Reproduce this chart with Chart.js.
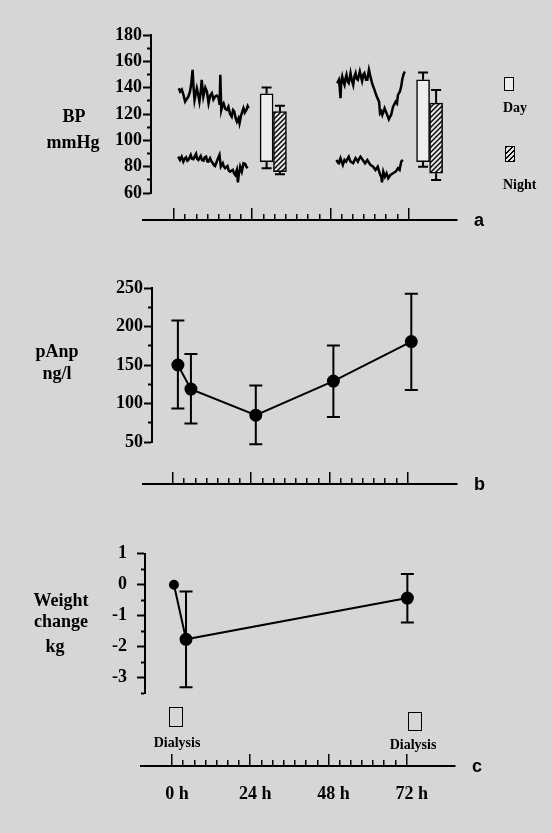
<!DOCTYPE html>
<html lang="en">
<head>
<meta charset="UTF-8">
<title>BP, pAnp and weight over the dialysis interval</title>
<style>
  body { margin: 0; padding: 0; background: #d6d6d6; color: #000; font-family: 'Liberation Serif', 'Times New Roman', serif; }
  #page { position: relative; width: 552px; height: 833px; overflow: hidden; }
  canvas { position: absolute; left: 0; }
  .lbl { position: absolute; font-weight: bold; font-size: 18px; line-height: 20px; white-space: nowrap; }
  .ctr { transform: translateX(-50%); text-align: center; }
  .small { font-size: 14px; line-height: 16px; }
  .pid { position: absolute; font-family: 'Liberation Sans', Arial, sans-serif; font-weight: bold; font-size: 18px; line-height: 20px; }
  .box { position: absolute; border: 1.5px solid #000; box-sizing: border-box; }
  .hatch { background: repeating-linear-gradient(135deg, #000 0 1.4px, #e4e4e4 1.4px 3.6px); }
</style>
<script src="https://cdn.jsdelivr.net/npm/chart.js"></script>
</head>
<body>
<div id="page">
  <canvas id="bpChart" width="552" height="182" style="top:23px"></canvas>
  <canvas id="bpAxis" width="552" height="24" style="top:200px"></canvas>
  <canvas id="anpChart" width="552" height="180" style="top:276px"></canvas>
  <canvas id="anpAxis" width="552" height="24" style="top:464px"></canvas>
  <canvas id="wtChart" width="552" height="181" style="top:533px"></canvas>
  <canvas id="wtAxis" width="552" height="60" style="top:746px"></canvas>

  <div class="lbl ctr" style="left:74px; top:106px">BP</div>
  <div class="lbl ctr" style="left:73px; top:132px">mmHg</div>
  <div class="lbl ctr" style="left:57px; top:341px">pAnp</div>
  <div class="lbl ctr" style="left:57px; top:363px">ng/l</div>
  <div class="lbl ctr" style="left:61px; top:590px">Weight</div>
  <div class="lbl ctr" style="left:61px; top:611px">change</div>
  <div class="lbl ctr" style="left:55px; top:636px">kg</div>

  <div class="box" style="left:504px; top:77px; width:10px; height:14px; background:#ededed"></div>
  <div class="lbl small" style="left:503px; top:100px">Day</div>
  <div class="box hatch" style="left:505px; top:146px; width:10px; height:16px"></div>
  <div class="lbl small" style="left:503px; top:177px">Night</div>

  <div class="box" style="left:169px; top:707px; width:14px; height:20px"></div>
  <div class="lbl small ctr" style="left:177px; top:735px">Dialysis</div>
  <div class="box" style="left:408px; top:712px; width:14px; height:19px"></div>
  <div class="lbl small ctr" style="left:413px; top:737px">Dialysis</div>

  <div class="pid" style="left:474px; top:210px">a</div>
  <div class="pid" style="left:474px; top:474px">b</div>
  <div class="pid" style="left:472px; top:756px">c</div>
</div>
<script>
    // ---- data (hours after start of dialysis) ----
    // seven tick intervals per day, as drawn on the original axis
    const timeTicks = [0, 3.4, 6.9, 10.3, 13.7, 17.1, 20.6, 24, 27.4, 30.9, 34.3, 37.7, 41.1, 44.6, 48, 51.4, 54.9, 58.3, 61.7, 65.1, 68.6, 72];
    const timeLabels = [0, 24, 48, 72];

    // first day, systolic and diastolic traces
    const sys1Hours = [1.5, 1.9, 2.4, 2.9, 3.4, 3.8, 4.4, 4.9, 5.3, 5.7, 6.0, 6.3, 6.7, 7.0, 7.4, 7.8, 8.2, 8.5, 8.8, 9.0, 9.6, 10.1, 10.6, 11.1, 11.6, 12.1, 12.6, 13.1, 13.6, 14.0, 14.2, 14.5, 14.9, 15.2, 15.7, 16.2, 16.7, 17.2, 17.7, 18.1, 18.5, 18.9, 19.3, 19.8, 20.1, 20.5, 20.8, 21.3, 21.7, 22.2, 22.6, 22.9];
    const sys1 = [139.6, 137, 138.5, 134.5, 129.4, 131, 133.2, 137, 143, 153.5, 140, 130.7, 136, 139.6, 135, 129.4, 137, 146, 138, 133.2, 140, 137, 128.2, 134, 135.8, 131, 133.2, 134, 133, 127, 149.7, 123.1, 127, 128.2, 124, 123.1, 125.6, 120, 118, 123, 121.8, 117, 114.2, 116.8, 113, 118, 120.6, 124.4, 121, 123.1, 126, 124.4];
    const dia1Hours = [1.3, 1.85, 2.36, 2.87, 3.3, 3.69, 4.1, 4.41, 5.13, 5.5, 5.95, 6.4, 6.77, 7.1, 7.49, 8.2, 8.6, 9.03, 9.4, 9.85, 10.2, 10.56, 11.08, 11.5, 11.9, 12.3, 12.6, 13.3, 13.95, 14.36, 14.97, 15.3, 15.7, 16.4, 16.8, 17.2, 18.05, 18.4, 18.77, 19.28, 19.6, 19.79, 20.3, 20.8, 21.33, 21.85, 22.2, 22.56];
    const dia1 = [87.6, 85.1, 87.6, 83.8, 86, 87.1, 84.5, 85.1, 88.9, 86, 85.6, 88, 89.7, 86, 85.1, 88.1, 85, 84.6, 87, 87.6, 84, 83.8, 86.4, 84, 82.6, 81, 80.5, 85.1, 88.9, 80, 82.6, 80, 78.8, 80.5, 77, 76.2, 77.5, 75, 73.7, 77.5, 68, 72.4, 80, 76.2, 82.6, 82.1, 80, 78.8];

    // third day, systolic and diastolic traces
    const sys2Hours = [50.05, 50.56, 50.8, 51.08, 51.3, 51.6, 52.0, 52.3, 52.6, 52.9, 53.2, 53.6, 54.15, 54.5, 54.97, 55.3, 55.7, 56.0, 56.4, 57.0, 57.4, 57.7, 58.1, 58.4, 58.9, 59.3, 59.8, 60.3, 60.8, 61.5, 62.2, 62.9, 63.2, 63.6, 63.9, 64.3, 64.6, 65.2, 65.6, 65.9, 66.3, 66.6, 67.2, 68.0, 68.4, 68.7, 69.3, 69.7, 70.0, 70.4, 70.8];
    const sys2 = [143.4, 146, 141, 132, 145, 148.5, 144, 142.1, 147, 149.7, 145, 143.5, 151, 146, 142, 148, 151, 147, 146, 152.3, 148, 145, 150, 151, 146, 146, 153.5, 148, 143, 138.3, 133.2, 129.4, 120.6, 122, 119.3, 122, 124.4, 120.6, 118, 116, 118, 119.3, 125.6, 129.4, 128, 134.5, 137, 141, 146, 150, 152.3];
    const dia2Hours = [49.85, 50.3, 50.56, 51.08, 51.4, 51.8, 52.3, 52.8, 53.2, 53.6, 54.1, 54.97, 55.4, 55.7, 56.4, 56.8, 57.2, 57.9, 58.6, 59.3, 59.8, 60.3, 61.1, 61.8, 62.5, 63.1, 63.6, 63.8, 64.2, 64.7, 65.2, 65.7, 66.4, 67.2, 68.0, 68.7, 69.2, 69.7, 70.2];
    const dia2 = [85.1, 83, 82.6, 86.4, 84, 81.3, 85.1, 83.8, 86, 87.6, 84, 82.6, 85, 86.4, 83.8, 86, 87.6, 85.1, 82.6, 85.1, 83, 81.3, 80, 77.5, 80, 75, 72, 68, 76.2, 72.4, 75, 71.2, 73.7, 75, 76.2, 78.8, 77.5, 83.8, 85.1];

    // day / night mean bars (systolic top, diastolic bottom) with SD ends
    const dayHours = [28.4, 76.4];
    const dayTop = [135.3, 146];
    const dayBottom = [83.8, 83.8];
    const dayErrHigh = [140.1, 151.5];
    const dayErrLow = [78.8, 80];
    const nightHours = [32.5, 80.4];
    const nightTop = [121.8, 128.2];
    const nightBottom = [76.2, 75];
    const nightErrHigh = [126.2, 138.3];
    const nightErrLow = [74.2, 69.9];

    // plasma ANP
    const anpHours = [1.5, 5.5, 25.4, 49.2, 73.1];
    const anpMean = [150, 118.7, 84.8, 129.1, 180.4];
    const anpHigh = [207.8, 164.3, 123.5, 175.2, 242.6];
    const anpLow = [93.5, 74, 47, 82.6, 117.4];

    // weight change
    const wtHours = [0.6, 4.3, 72.2];
    const wtMean = [0, -1.76, -0.43];
    const wtHigh = [null, -0.22, 0.35];
    const wtLow = [null, -3.31, -1.22];

    // ---- layout helpers ----
    const PX_PER_H = 3.26;
    const tickFont = {family: "'Liberation Serif', serif", size: 18, weight: 'bold'};

    function hourRange(left, right, zero) {
        return {min: (left - zero) / PX_PER_H, max: (right - zero) / PX_PER_H};
    }
    function pts(xs, ys) {
        return xs.map((x, i) => ({x: x, y: ys[i]}));
    }

    const errorBars = {
        id: 'errorBars',
        afterDatasetsDraw(chart) {
            const ctx = chart.ctx;
            const yScale = chart.scales.y;
            chart.data.datasets.forEach((ds, di) => {
                if (!ds.errHigh) return;
                const meta = chart.getDatasetMeta(di);
                const cap = ds.capWidth / 2;
                ctx.save();
                ctx.strokeStyle = '#000';
                ctx.lineWidth = 2;
                meta.data.forEach((el, i) => {
                    const isBar = ds.type === 'bar';
                    const top = isBar ? Math.min(el.y, el.base) : el.y;
                    const bottom = isBar ? Math.max(el.y, el.base) : el.y;
                    [[ds.errHigh[i], top], [ds.errLow[i], bottom]].forEach(([v, from]) => {
                        if (v === null || v === undefined) return;
                        const to = yScale.getPixelForValue(v);
                        ctx.beginPath();
                        ctx.moveTo(el.x, from);
                        ctx.lineTo(el.x, to);
                        ctx.moveTo(el.x - cap, to);
                        ctx.lineTo(el.x + cap, to);
                        ctx.stroke();
                    });
                });
                ctx.restore();
            });
        }
    };

    function yAxis(o) {
        return {
            position: 'left',
            min: o.min,
            max: o.max,
            afterFit: s => { s.width = o.left; },
            border: {display: true, color: '#000', width: 2},
            grid: {
                drawOnChartArea: false,
                tickLength: 8,
                tickWidth: 2,
                tickColor: '#000',
                tickBorderDash: c => o.labels.includes(c.tick.value) ? [] : [0, 4, 4, 0]
            },
            ticks: {
                stepSize: o.step,
                autoSkip: false,
                padding: o.pad,
                color: '#000',
                font: tickFont,
                callback: v => o.labels.includes(v) ? String(v) : ''
            }
        };
    }

    function baseOptions(range, right, padTop, padBottom, y) {
        return {
            responsive: false,
            animation: false,
            events: [],
            layout: {padding: {left: 0, right: 552 - right, top: padTop, bottom: padBottom}},
            plugins: {legend: {display: false}, tooltip: {enabled: false}},
            scales: {
                x: {type: 'linear', display: false, min: range.min, max: range.max, offset: false},
                y: y
            }
        };
    }

    // time axis strip below each panel: 12px strip above the line holds the ticks
    function timeAxis(id, left, right, zero, withLabels) {
        const r = hourRange(left, right, zero);
        const canvas = document.getElementById(id);
        const labelBand = withLabels ? 40 : 0;
        const padTop = 8;
        const padBottom = canvas.height - padTop - 12 - labelBand;
        new Chart(canvas, {
            type: 'line',
            data: {datasets: []},
            options: {
                responsive: false,
                animation: false,
                events: [],
                layout: {padding: {left: left, right: 552 - right, top: padTop, bottom: padBottom}},
                plugins: {legend: {display: false}, tooltip: {enabled: false}},
                scales: {
                    y: {display: false, min: 0, max: 1},
                    x: {
                        type: 'linear',
                        min: r.min,
                        max: r.max,
                        bounds: 'data',
                        afterBuildTicks: s => { s.ticks = timeTicks.map(v => ({value: v})); },
                        afterFit: s => { s.height = labelBand; },
                        border: {display: true, color: '#000', width: 2,
                                 dash: c => timeLabels.includes(c.tick.value) ? [] : [0, 6, 6, 0]},
                        grid: {drawOnChartArea: true, drawTicks: false, color: '#000', lineWidth: 1.5},
                        ticks: {
                            display: withLabels,
                            autoSkip: false,
                            maxRotation: 0,
                            minRotation: 0,
                            padding: 18,
                            labelOffset: 5,
                            color: '#000',
                            font: tickFont,
                            callback: v => timeLabels.includes(v) ? v + ' h' : ''
                        }
                    }
                }
            }
        });
    }

    function hatchPattern() {
        const c = document.createElement('canvas');
        c.width = 5; c.height = 5;
        const g = c.getContext('2d');
        g.fillStyle = '#e4e4e4';
        g.fillRect(0, 0, 5, 5);
        g.strokeStyle = '#000';
        g.lineWidth = 1.4;
        g.beginPath();
        g.moveTo(0, 5); g.lineTo(5, 0);
        g.moveTo(-1, 1); g.lineTo(1, -1);
        g.moveTo(4, 6); g.lineTo(6, 4);
        g.stroke();
        return g.createPattern(c, 'repeat');
    }

    const traceStyle = {type: 'line', borderColor: '#000', borderWidth: 2.5, pointRadius: 0, tension: 0, fill: false};

    // ---- panel a: blood pressure ----
    new Chart(document.getElementById('bpChart'), {
        type: 'line',
        data: {
            datasets: [
                Object.assign({data: pts(sys1Hours, sys1)}, traceStyle),
                Object.assign({data: pts(dia1Hours, dia1)}, traceStyle),
                Object.assign({data: pts(sys2Hours, sys2)}, traceStyle),
                Object.assign({data: pts(dia2Hours, dia2)}, traceStyle),
                {
                    type: 'bar',
                    data: dayHours.map((h, i) => ({x: h, y: [dayBottom[i], dayTop[i]]})),
                    backgroundColor: '#ededed',
                    borderColor: '#000',
                    borderWidth: 1.5,
                    borderSkipped: false,
                    barThickness: 13,
                    grouped: false,
                    errHigh: dayErrHigh,
                    errLow: dayErrLow,
                    capWidth: 10
                },
                {
                    type: 'bar',
                    data: nightHours.map((h, i) => ({x: h, y: [nightBottom[i], nightTop[i]]})),
                    backgroundColor: hatchPattern(),
                    borderColor: '#000',
                    borderWidth: 1.5,
                    borderSkipped: false,
                    barThickness: 13,
                    grouped: false,
                    errHigh: nightErrHigh,
                    errLow: nightErrLow,
                    capWidth: 10
                }
            ]
        },
        options: baseOptions(hourRange(151, 460, 174), 460, 12, 12,
            yAxis({min: 60, max: 180, step: 10, left: 151, pad: 1, labels: [60, 80, 100, 120, 140, 160, 180]})),
        plugins: [errorBars]
    });
    timeAxis('bpAxis', 143, 457, 174, false);

    // ---- panel b: pAnp ----
    new Chart(document.getElementById('anpChart'), {
        type: 'line',
        data: {
            datasets: [{
                data: pts(anpHours, anpMean),
                borderColor: '#000',
                borderWidth: 2,
                tension: 0,
                pointRadius: 5.5,
                pointBackgroundColor: '#000',
                pointBorderColor: '#000',
                errHigh: anpHigh,
                errLow: anpLow,
                capWidth: 13
            }]
        },
        options: baseOptions(hourRange(152, 460, 173), 460, 12, 14,
            yAxis({min: 50, max: 250, step: 25, left: 152, pad: 1, labels: [50, 100, 150, 200, 250]})),
        plugins: [errorBars]
    });
    timeAxis('anpAxis', 143, 457, 173, false);

    // ---- panel c: weight change ----
    new Chart(document.getElementById('wtChart'), {
        type: 'line',
        data: {
            datasets: [{
                data: pts(wtHours, wtMean),
                borderColor: '#000',
                borderWidth: 2,
                tension: 0,
                pointRadius: [4, 5.5, 5.5],
                pointBackgroundColor: '#000',
                pointBorderColor: '#000',
                errHigh: wtHigh,
                errLow: wtLow,
                capWidth: 13
            }]
        },
        options: baseOptions(hourRange(145, 460, 172), 460, 12, 12,
            yAxis({min: -3.5, max: 1, step: 0.5, left: 145, pad: 10, labels: [-3, -2, -1, 0, 1]})),
        plugins: [errorBars]
    });
    timeAxis('wtAxis', 141, 455, 172, true);
</script>
</body>
</html>
